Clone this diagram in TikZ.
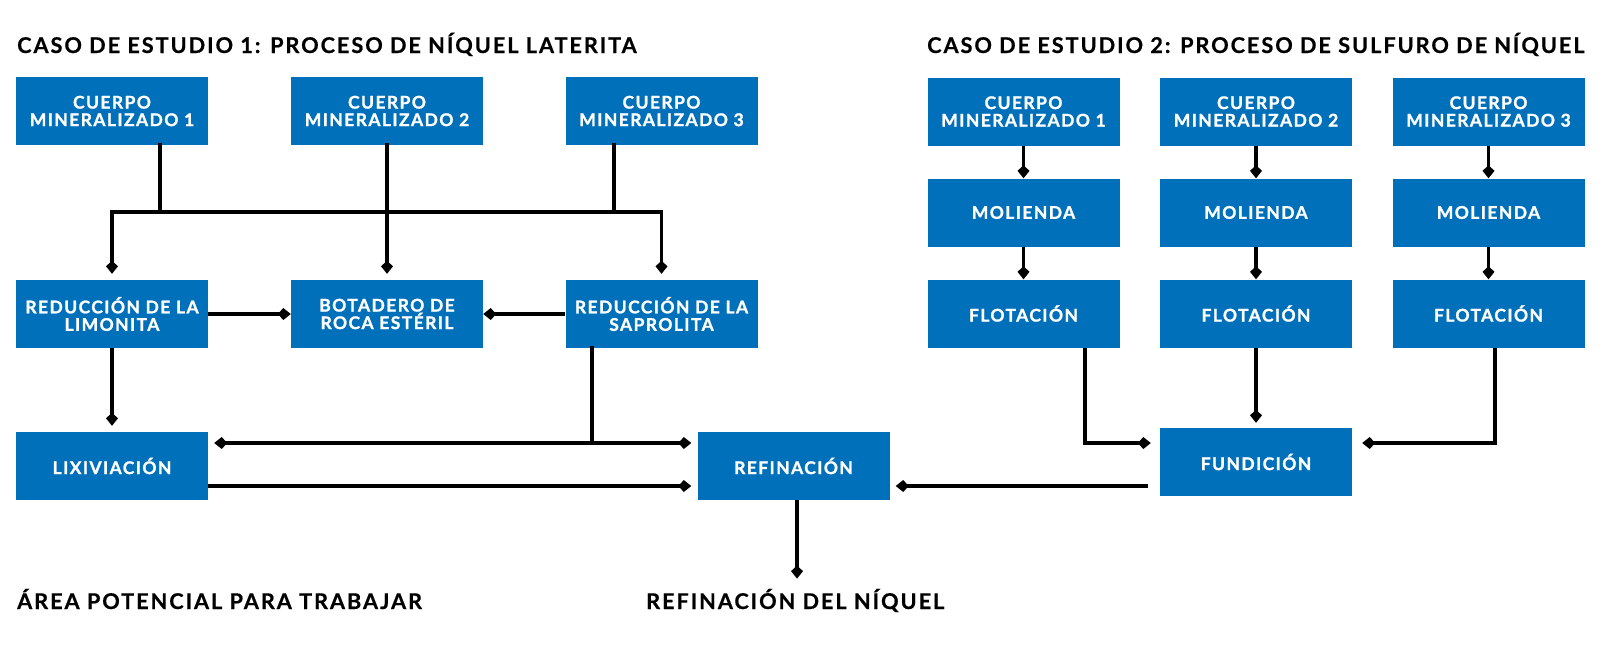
\documentclass[tikz,border=0pt]{standalone}
\usepackage{fontspec}
\setmainfont{Lato}
\newfontfamily\boxfont[LetterSpace=8, BoldFeatures={FakeBold=1.2}]{Lato}
\newfontfamily\headfont[LetterSpace=9, BoldFeatures={FakeBold=0.6}]{Lato}
\usetikzlibrary{arrows.meta, positioning}
\definecolor{boxblue}{HTML}{0070BA}

\tikzset{
	diam/.tip = {Kite[length=13pt, width=12pt, inset=5.5pt]},
	stage/.style = {rectangle, fill=boxblue, text=white, align=center, inner sep=0pt,
		minimum width=192pt, minimum height=68pt,
		font=\boxfont\bfseries\fontsize{17.5}{17.5}\selectfont},
	heading/.style = {anchor=base west, inner sep=0pt, font=\headfont\bfseries\fontsize{21.7}{24}\selectfont},
	link/.style = {line width=3.5pt, line cap=rect},
	flow/.style = {line width=3.5pt, -diam, shorten >=6pt},
}

\begin{document}
\begin{tikzpicture}[x=1pt, y=-1pt]
	\useasboundingbox (0,0) rectangle (1600,654);

	\begin{scope}
		\node [heading] (head1) at (17,53) {CASO DE ESTUDIO 1: PROCESO DE NÍQUEL LATERITA};
		\node [heading] (head2) at (927,53) {CASO DE ESTUDIO 2: PROCESO DE SULFURO DE NÍQUEL};
		\node [heading] (area) at (17,609) {ÁREA POTENCIAL PARA TRABAJAR};
		\node [heading] (nik) at (646,609) {REFINACIÓN DEL NÍQUEL};
	\end{scope}

	\begin{scope}
		\node [stage] (lcm1) at (112,111) {CUERPO\\MINERALIZADO 1};
		\node [stage] (lcm2) at (387,111) {CUERPO\\MINERALIZADO 2};
		\node [stage] (lcm3) at (661.5,111) {CUERPO\\MINERALIZADO 3};
		\node [stage] (limo) at (112,314) {REDUCCIÓN DE LA\\LIMONITA};
		\node [stage] (bota) at (387,314) {BOTADERO DE\\ROCA ESTÉRIL};
		\node [stage] (sapro) at (661.5,314) {REDUCCIÓN DE LA\\SAPROLITA};
		\node [stage] (lixi) at (112,466) {LIXIVIACIÓN};
		\node [stage] (refi) at (793.5,466) {REFINACIÓN};
		\node [stage] (fund) at (1256,462) {FUNDICIÓN};
	\end{scope}

	\begin{scope}
		\foreach \i/\x in {1/1023.5, 2/1256, 3/1488.5} {
			\node [stage] (rcm\i) at (\x,111.5) {CUERPO\\MINERALIZADO \i};
			\node [stage] (mol\i) at (\x,212.5) {MOLIENDA};
			\node [stage] (flo\i) at (\x,313.5) {FLOTACIÓN};
			\draw [flow, shorten >=0pt] (rcm\i) -- (mol\i);
			\draw [flow, shorten >=0pt] (mol\i) -- (flo\i);
		}
	\end{scope}

	\begin{scope}
		\coordinate (busL) at (112,212);
		\coordinate (busR) at (661.5,212);
		\coordinate (j1) at (160,212);
		\coordinate (j3) at (614,212);
		\coordinate (j4) at (592,443);
		\coordinate (lowin) at ([yshift=-20pt]refi.west);

		\draw [link] (busL) -- (busR);
		\draw [link] (lcm1.south -| j1) -- (j1);
		\draw [link] (lcm2) -- (bota.north |- busL);
		\draw [link] (lcm3.south -| j3) -- (j3);
		\draw [flow] (busL) -- (limo);
		\draw [flow] (bota.north |- busL) -- (bota);
		\draw [flow] (busR) -- (sapro);

		\draw [flow, shorten >=0pt] (limo) -- (bota);
		\draw [flow, shorten >=0pt] (sapro) -- (bota);
		\draw [flow] (limo) -- (lixi);
		\draw [link] (sapro.south -| j4) -- (j4);
		\draw [flow, diam-diam, shorten <=6pt] (lixi.east |- j4) -- (refi.west |- j4);
		\draw [flow] (lixi.east |- lowin) -- (lowin);
		\draw [flow, shorten <=12pt] (fund.west |- lowin) -- (refi.east |- lowin);
		\draw [flow, shorten >=10pt] ([xshift=3.5pt]refi.south) -- ([xshift=3.5pt]refi.south |- nik.north);
	\end{scope}

	\begin{scope}
		\coordinate (k1) at (1085,443);
		\coordinate (k3) at (1495,443);
		\draw [flow, shorten >=9pt] (flo1.south -| k1) |- (fund.west |- k1);
		\draw [flow, shorten >=5pt] (flo2) -- (fund);
		\draw [flow, shorten >=10pt] (flo3.south -| k3) |- (fund.east |- k3);
	\end{scope}
\end{tikzpicture}
\end{document}
